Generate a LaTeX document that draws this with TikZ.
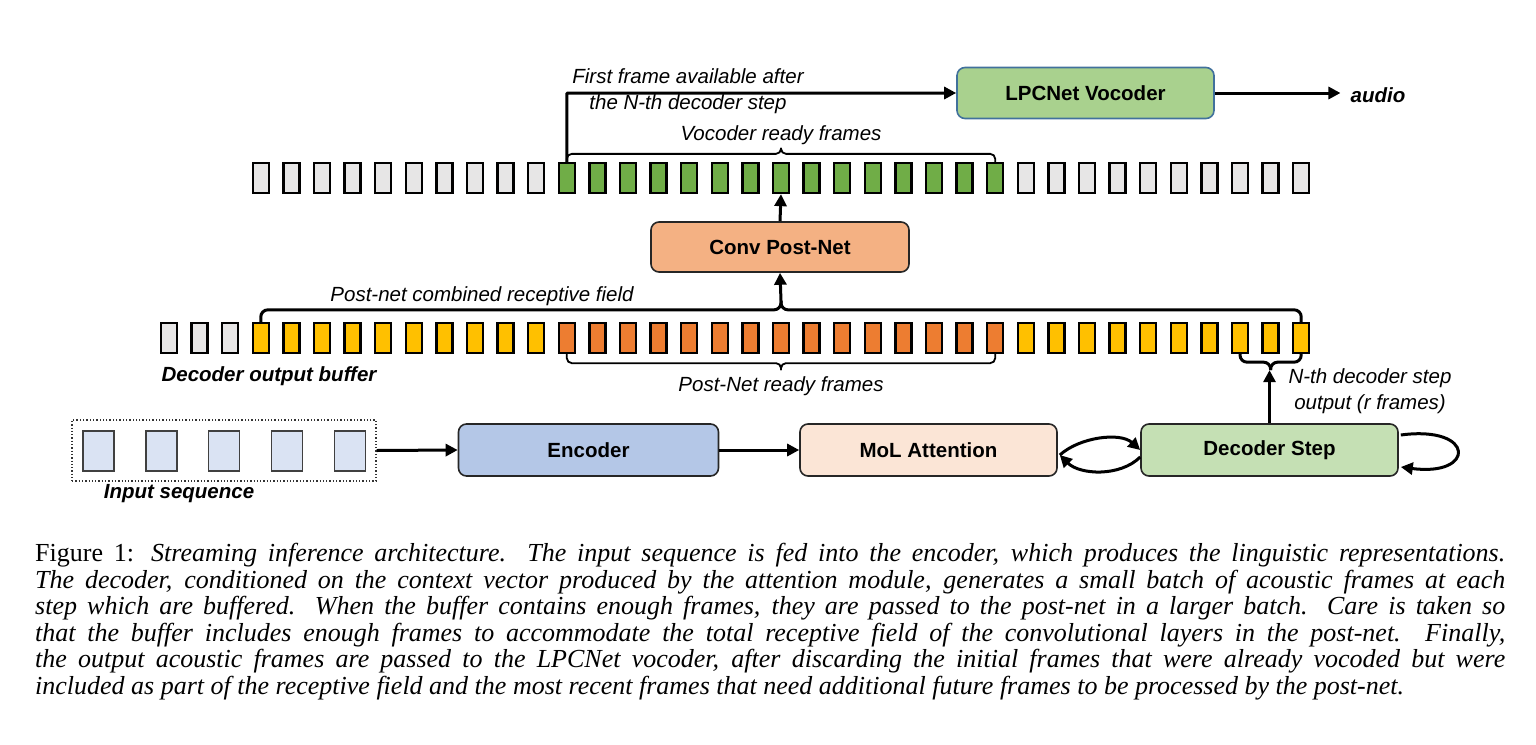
\documentclass[tikz,border=0pt]{standalone}
\usepackage{fontspec}
\setmainfont{Liberation Serif}
\newfontfamily\arial{Liberation Sans}
\usetikzlibrary{arrows.meta,calc}
\definecolor{cgrey}{HTML}{E7E6E6}
\definecolor{cyel}{HTML}{FFC000}
\definecolor{corg}{HTML}{ED7D31}
\definecolor{cgrn}{HTML}{70AD47}
\definecolor{cvoc}{HTML}{A9D18E}
\definecolor{cvocb}{HTML}{41719C}
\definecolor{cconv}{HTML}{F4B183}
\definecolor{cenc}{HTML}{B4C7E7}
\definecolor{cmol}{HTML}{FBE5D6}
\definecolor{cdec}{HTML}{C5E0B4}
\definecolor{cinp}{HTML}{DAE3F3}
\begin{document}
\begin{tikzpicture}[x=1pt,y=-1pt,
  frm/.style={draw=black, line width=2.3pt, minimum width=16pt, minimum height=30pt, inner sep=0pt},
  inf/.style={draw=black!75, line width=1.2pt, fill=cinp, minimum width=31pt, minimum height=40pt, inner sep=0pt},
  blk/.style={rounded corners=8pt, line width=1.6pt, draw=black!85, minimum width=257pt, minimum height=51pt, inner sep=0pt,
    font=\arial\bfseries\fontsize{20.5}{24}\selectfont},
  lbl/.style={font=\arial\itshape\fontsize{20.5}{26}\selectfont, align=center, inner sep=0pt},
  blbl/.style={font=\arial\bfseries\itshape\fontsize{20.5}{26}\selectfont, align=center, inner sep=0pt},
  arr/.style={line width=3pt, -{Triangle[length=12pt,width=12pt]}},
  bra/.style={line width=1.8pt, rounded corners=5pt},
  brb/.style={line width=3pt, rounded corners=7pt}]
\useasboundingbox (0,0) rectangle (1536,744);

% decoder output buffer (middle row)
\foreach \i in {0,1,2} \node[frm, fill=cgrey] (m\i) at ({169+30.6*\i},338) {};
\foreach \i in {3,...,12} \node[frm, fill=cyel] (m\i) at ({169+30.6*\i},338) {};
\foreach \i in {13,...,27} \node[frm, fill=corg] (m\i) at ({169+30.6*\i},338) {};
\foreach \i in {28,...,37} \node[frm, fill=cyel] (m\i) at ({169+30.6*\i},338) {};

% vocoder row (top)
\foreach \i in {3,...,12} \node[frm, fill=cgrey] (t\i) at ({169+30.6*\i},178) {};
\foreach \i in {13,...,27} \node[frm, fill=cgrn] (t\i) at ({169+30.6*\i},178) {};
\foreach \i in {28,...,37} \node[frm, fill=cgrey] (t\i) at ({169+30.6*\i},178) {};

% blocks
\node[blk, fill=cvoc, draw=cvocb] (voc) at (1085.5,93) {LPCNet Vocoder};
\node[blk, fill=cconv, minimum width=258pt, minimum height=50pt] (conv) at (780,247) {Conv Post-Net};
\node[blk, fill=cenc, minimum width=260pt, minimum height=52pt] (enc) at (588.5,450) {Encoder};
\node[blk, fill=cmol, minimum height=52pt] (mol) at (928.5,450) {MoL Attention};
\node[blk, fill=cdec, minimum height=52pt] (dec) at (1269.5,450) {Decoder Step};

% input sequence
\node[draw=black!80, dotted, line width=1.3pt, minimum width=304pt, minimum height=61pt, inner sep=0pt] (inp) at (224,450.5) {};
\foreach \i in {0,...,4} \node[inf] (in\i) at ({98.5+62.9*\i},451) {};

% labels
\node[lbl] (ffa) at (688,91) {First frame available after\\the N-th decoder step};
\node[lbl] (vrf) at (781,135) {Vocoder ready frames};
\node[blbl, inner sep=10pt] (audio) at (1378,95) {audio};
\node[lbl] (pcr) at (482,296) {Post-net combined receptive field};
\node[blbl] (dob) at (269,376) {Decoder output buffer};
\node[lbl] (prf) at (781,386) {Post-Net ready frames};
\node[lbl] (nds) at (1370,391) {N-th decoder step\\output (r frames)};
\node[blbl] (ins) at (179,494) {Input sequence};

% braces
\coordinate (vbL) at ($(t13.north)!0.5!(t27.north)+(0,-8)$);
\coordinate (vbT) at ($(vbL)+(0,-6)$);
\draw[bra] (t13.north) |- (vbL) -- (vbT);
\draw[bra] (t27.north) |- (vbL) -- (vbT);

\coordinate (rbL) at ($(m3.north)!0.5!(m37.north)+(0,-12)$);
\coordinate (rfTip) at ($(rbL)+(0,-9)$);
\draw[brb] (m3.north) |- (rbL) -- (rfTip);
\draw[brb] (m37.north) |- (rbL) -- (rfTip);

\coordinate (pbL) at ($(m13.south)!0.5!(m27.south)+(0,9)$);
\coordinate (pbT) at ($(pbL)+(0,7)$);
\draw[bra] (m13.south) |- (pbL) -- (pbT);
\draw[bra] (m27.south) |- (pbL) -- (pbT);

\coordinate (nbL) at ($(m35.south)!0.5!(m37.south)+(0,8)$);
\coordinate (nTip) at ($(nbL)+(0,8)$);
\draw[brb] (m35.south) |- (nbL) -- (nTip);
\draw[brb] (m37.south) |- (nbL) -- (nTip);

% connectors
\draw[arr, rounded corners=1pt] (t13.north) |- (voc.west);
\draw[arr] (voc.east) -- (audio.west |- voc.east);
\draw[arr] (conv.north) -- (t20.south);
\draw[arr] (rfTip) -- (conv.south);
\draw[arr] (dec.north) -- (dec.north |- nTip);
\draw[arr] (inp.east) -- (enc.west);
\draw[arr] (enc.east) -- (mol.west);
\draw[arr] ($(mol.east)+(2,5)$) .. controls +(20,-18) and +(-20,-18) .. (dec.west);
\draw[arr] ($(dec.west)+(0,7)$) .. controls +(-20,20) and +(20,20) .. ($(mol.east)+(2,5)$);
\draw[arr] ($(dec.east)+(2,-15)$) .. controls +(75,-10) and +(75,10) .. ($(dec.east)+(2,17)$);

% caption
\node[anchor=base west, inner sep=0pt] (cap) at (35,561.5) {\parbox[t]{1470pt}{\fontsize{26}{26.6}\selectfont
\hyphenpenalty=10000 \exhyphenpenalty=10000
Figure 1: {\itshape Streaming inference architecture. The input sequence is fed into the encoder, which produces the linguistic representations.\linebreak
The decoder, conditioned on the context vector produced by the attention module, generates a small batch of acoustic frames at each\linebreak
step which are buffered. When the buffer contains enough frames, they are passed to the post-net in a larger batch. Care is taken so\linebreak
that the buffer includes enough frames to accommodate the total receptive field of the convolutional layers in the post-net. Finally,\linebreak
the output acoustic frames are passed to the LPCNet vocoder, after discarding the initial frames that were already vocoded but were\linebreak
included as part of the receptive field and the most recent frames that need additional future frames to be processed by the post-net.}}};
\end{tikzpicture}
\end{document}
